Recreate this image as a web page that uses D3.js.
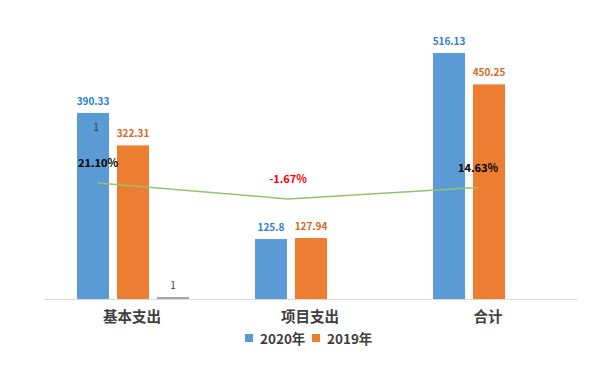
<!DOCTYPE html>
<html>
<head>
<meta charset="utf-8">
<script src="https://cdn.jsdelivr.net/npm/d3@7"></script>
<style>
	body { margin: 0; background: #fff; }
	text { font-family: "Noto Sans CJK SC", "Noto Sans", sans-serif; }
</style>
</head>
<body>
<svg id="chart" width="600" height="378"></svg>
<script>
	"use strict";

	// data
	var categories = ["基本支出", "项目支出", "合计"];
	var values2020 = [390.33, 125.8, 516.13];
	var values2019 = [322.31, 127.94, 450.25];
	var valuesOther = [1, null, null];
	var growth = [21.10, -1.67, 14.63];
	var growthLabels = ["21.10%", "-1.67%", "14.63%"];
	var legendNames = ["2020年", "2019年"];

	var blue = "#5B9BD5", orange = "#ED7D31", gray = "#A5A5A5";

	var svg = d3.select("#chart");

	var x = d3.scaleBand().domain(categories).range([44, 578]).paddingInner(0).paddingOuter(0);
	var inner = d3.scaleBand().domain([0, 1, 2]).range([33, 145]).paddingInner(0.2);
	var y = d3.scaleLinear().domain([0, 600]).range([299, 13]);

	// growth line sits on its own axis
	var xLine = d3.scalePoint().domain(categories).range([98, 478]);
	var yLine = d3.scaleLinear().domain([-200, 200]).range([338.4, 57.2]);

	var series = [
		{vals: values2020, color: blue, label: "#2F7ED8"},
		{vals: values2019, color: orange, label: "#D2691E"},
		{vals: valuesOther, color: gray, label: "#404040"}
	];

	series.forEach(function(s, si){
		var g = svg.append("g");
		categories.forEach(function(c, ci){
			var v = s.vals[ci];
			if (v === null) return;
			var bx = x(c) + inner(si);
			var h = Math.max(2, y(0) - y(v));
			g.append("rect")
				.attr("x", bx).attr("y", y(0) - h)
				.attr("width", inner.bandwidth()).attr("height", h)
				.attr("fill", s.color);
			g.append("text")
				.attr("x", bx + inner.bandwidth()/2)
				.attr("y", y(0) - h - 8)
				.attr("text-anchor", "middle")
				.attr("font-size", 10)
				.attr("font-weight", si == 2 ? "normal" : "bold")
				.attr("fill", s.label)
				.text(v);
		});
	});

	// stray "1" label inside first bar
	svg.append("text")
		.attr("x", x(categories[0]) + inner(0) + inner.bandwidth()/2 + 3)
		.attr("y", 131)
		.attr("text-anchor", "middle")
		.attr("font-size", 11)
		.attr("fill", "#404040")
		.text("1");

	// axis
	svg.append("line")
		.attr("x1", 44).attr("x2", 578)
		.attr("y1", y(0) + 0.5).attr("y2", y(0) + 0.5)
		.attr("stroke", "#D9D9D9").attr("stroke-width", 1);

	svg.selectAll(".cat").data(categories).enter().append("text")
		.attr("class", "cat")
		.attr("x", function(d){ return x(d) + x.bandwidth()/2 - 1; })
		.attr("y", 322)
		.attr("text-anchor", "middle")
		.attr("font-size", 14.5)
		.attr("font-weight", "bold")
		.attr("fill", "#404040")
		.text(function(d){ return d; });

	// growth line
	var line = d3.line()
		.x(function(d, i){ return xLine(categories[i]); })
		.y(function(d){ return yLine(d); });
	svg.append("path")
		.datum(growth)
		.attr("d", line)
		.attr("fill", "none")
		.attr("stroke", "#92C46A")
		.attr("stroke-width", 1.5);

	svg.selectAll(".glabel").data(growth).enter().append("text")
		.attr("class", "glabel")
		.attr("x", function(d, i){ return xLine(categories[i]); })
		.attr("y", function(d){ return yLine(d) - 16; })
		.attr("text-anchor", "middle")
		.attr("font-size", 11)
		.attr("font-weight", "bold")
		.attr("fill", function(d){ return d < 0 ? "#FF0000" : "#000"; })
		.text(function(d, i){ return growthLabels[i]; });

	// legend
	var legend = svg.append("g");
	var lx = [245, 312];
	legendNames.forEach(function(n, i){
		legend.append("rect")
			.attr("x", lx[i]).attr("y", 334)
			.attr("width", 8).attr("height", 8)
			.attr("fill", [blue, orange][i]);
		legend.append("text")
			.attr("x", lx[i] + 15).attr("y", 343.5)
			.attr("font-size", 13.5)
			.attr("font-weight", "bold")
			.attr("fill", "#404040")
			.text(n);
	});
</script>
</body>
</html>
